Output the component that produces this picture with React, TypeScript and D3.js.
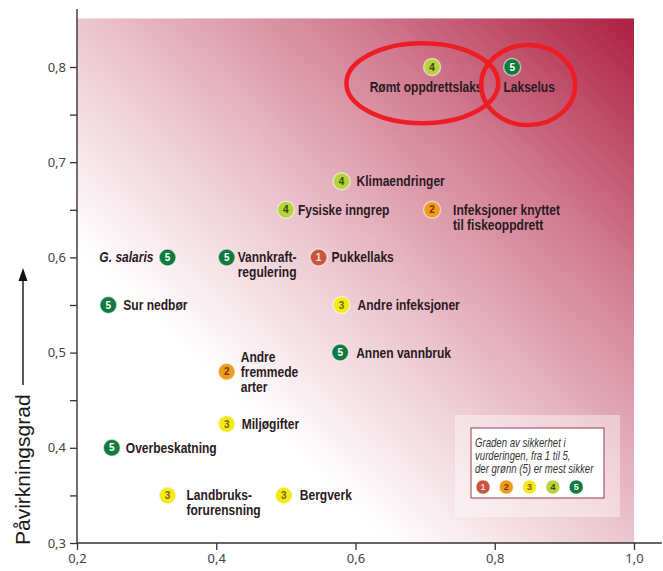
import React, { useEffect, useRef } from 'react';
import * as d3 from 'd3';

// påvirkningsfaktorer: navn (linjer skilt med |), x, y og sikkerhetsgrad 1-5
const names = [
  'Rømt oppdrettslaks',
  'Lakselus',
  'Klimaendringer',
  'Fysiske inngrep',
  'Infeksjoner knyttet|til fiskeoppdrett',
  'G. salaris',
  'Vannkraft-|regulering',
  'Pukkellaks',
  'Sur nedbør',
  'Andre infeksjoner',
  'Annen vannbruk',
  'Andre|fremmede|arter',
  'Miljøgifter',
  'Overbeskatning',
  'Landbruks-|forurensning',
  'Bergverk',
];
const xValues = [0.71, 0.825, 0.58, 0.5, 0.71, 0.33, 0.415, 0.547, 0.245, 0.58, 0.578, 0.415, 0.415, 0.25, 0.33, 0.497];
const yValues = [0.8, 0.8, 0.68, 0.65, 0.65, 0.6, 0.6, 0.6, 0.55, 0.55, 0.5, 0.48, 0.425, 0.4, 0.35, 0.35];
const certainty = [4, 5, 4, 4, 2, 5, 5, 1, 5, 3, 5, 2, 3, 5, 3, 3];

// plassering av etiketter (layout, ikke data)
const labelSide = ['below', 'below', 'right', 'right', 'right', 'left', 'right', 'right', 'right', 'right', 'right', 'right', 'right', 'right', 'right', 'right'];
const labelGap = [-6, 17, 15, 12, 21, 14, 11, 13, 15, 16, 16, 14, 15, 14, 19, 16];

// røde markeringsellipser i dataenheter: senter x, senter y, rx, ry
const ringX = [0.696, 0.848];
const ringY = [0.783, 0.781];
const ringRx = [0.109, 0.0675];
const ringRy = [0.042, 0.042];

const xTicks = [0.2, 0.4, 0.6, 0.8, 1.0];
const yTicks = [0.3, 0.35, 0.4, 0.45, 0.5, 0.55, 0.6, 0.65, 0.7, 0.75, 0.8];
const legendLines = ['Graden av sikkerhet i', 'vurderingen, fra 1 til 5,', 'der grønn (5) er mest sikker'];
const levels = [1, 2, 3, 4, 5];

const levelFill: Record<number, string> = { 1: '#c8553f', 2: '#ee9b1f', 3: '#f3ea1c', 4: '#b6d23c', 5: '#0f7a3e' };
const levelText: Record<number, string> = { 1: '#f8ddd2', 2: '#6e3a05', 3: '#7a6208', 4: '#37460f', 5: '#ffffff' };

const W = 663;
const H = 571;
const sans = '"Liberation Sans", Arial, sans-serif';
const squeeze = 0.83;

const App: React.FC = () => {
  const ref = useRef<SVGSVGElement | null>(null);

  useEffect(() => {
    const svg = d3.select(ref.current);
    svg.selectAll('*').remove();

    const x = d3.scaleLinear().domain([0.2, 1.0]).range([77, 634]);
    const y = d3.scaleLinear().domain([0.3, 0.8]).range([543, 67]);

    const defs = svg.append('defs');
    const grad = defs.append('linearGradient')
      .attr('id', 'bg')
      .attr('x1', 0).attr('y1', 1).attr('x2', 1).attr('y2', 0);
    [
      [0, '#ffffff'],
      [0.28, '#ffffff'],
      [0.5, '#ecc6cf'],
      [0.75, '#d17a90'],
      [1, '#ad1f41'],
    ].forEach(([o, c]) => grad.append('stop').attr('offset', o as number).attr('stop-color', c as string));

    svg.append('rect').attr('width', W).attr('height', H).attr('fill', 'white');

    svg.append('rect')
      .attr('x', x(0.2))
      .attr('y', y(0.851))
      .attr('width', x(1.0) - x(0.2))
      .attr('height', y(0.3) - y(0.851))
      .attr('fill', 'url(#bg)');

    // akser
    const yAxis = svg.append('g')
      .attr('transform', `translate(${x(0.2)},0)`)
      .call(d3.axisLeft(y).tickValues(yTicks).tickSize(7)
        .tickFormat(d => (Math.round((d as number) * 100) % 10 === 0 ? d3.format('.1f')(d as number).replace('.', ',') : '')));
    yAxis.select('.domain').remove();
    yAxis.selectAll('line').attr('stroke', '#333').attr('stroke-width', 1.3);
    yAxis.selectAll('text')
      .attr('x', -11)
      .style('font-family', '"Noto Sans", sans-serif')
      .style('font-size', '13px')
      .attr('fill', '#444');

    const xAxis = svg.append('g')
      .attr('transform', `translate(0,${y(0.3)})`)
      .call(d3.axisBottom(x).tickValues(xTicks).tickSize(7)
        .tickFormat(d => d3.format('.1f')(d as number).replace('.', ',')));
    xAxis.select('.domain').remove();
    xAxis.selectAll('line').attr('stroke', '#333').attr('stroke-width', 1.3);
    xAxis.selectAll('text')
      .attr('y', 11)
      .style('font-family', '"Noto Sans", sans-serif')
      .style('font-size', '13px')
      .attr('fill', '#444');

    svg.append('line')
      .attr('x1', x(0.2)).attr('x2', x(0.2))
      .attr('y1', y(0.861)).attr('y2', y(0.3))
      .attr('stroke', '#333').attr('stroke-width', 1.4);
    svg.append('line')
      .attr('x1', x(0.2)).attr('x2', x(1.04))
      .attr('y1', y(0.3)).attr('y2', y(0.3))
      .attr('stroke', '#333').attr('stroke-width', 1.4);

    // aksetittel med pil
    const ax = 23;
    svg.append('text')
      .attr('transform', `translate(${ax + 7},${y(0.3) + 2}) rotate(-90)`)
      .attr('text-anchor', 'start')
      .style('font-family', sans)
      .style('font-size', '21px')
      .attr('fill', '#1a1a1a')
      .text('Påvirkningsgrad');
    svg.append('line')
      .attr('x1', ax).attr('x2', ax)
      .attr('y1', 385).attr('y2', 278)
      .attr('stroke', '#222').attr('stroke-width', 1.5);
    svg.append('path')
      .attr('d', `M${ax},268 L${ax - 4.5},281 L${ax + 4.5},281 Z`)
      .attr('fill', '#111');

    // punkter
    const pts = names.map((n, i) => ({
      lines: n.split('|'),
      x: xValues[i],
      y: yValues[i],
      c: certainty[i],
      side: labelSide[i],
      gap: labelGap[i],
    }));

    const g = svg.append('g');
    const node = g.selectAll('g.pt').data(pts).enter().append('g')
      .attr('class', 'pt')
      .attr('transform', d => `translate(${x(d.x)},${y(d.y)})`);

    node.append('circle')
      .attr('r', 8.5)
      .attr('fill', d => levelFill[d.c])
      .attr('stroke', 'rgba(255,255,255,0.55)')
      .attr('stroke-width', 1.5);
    node.append('text')
      .attr('text-anchor', 'middle')
      .attr('dy', '0.36em')
      .style('font-family', sans)
      .style('font-size', '10px')
      .style('font-weight', 'bold')
      .attr('fill', d => levelText[d.c])
      .text(d => String(d.c));

    node.each(function (d) {
      const ox = d.side === 'left' ? -d.gap : d.gap;
      const wrap = d3.select(this).append('g')
        .attr('transform', `translate(${ox},0) scale(${squeeze},1)`);
      const t = wrap.append('text')
        .attr('text-anchor', d.side === 'below' ? 'middle' : d.side === 'left' ? 'end' : 'start')
        .style('font-family', sans)
        .style('font-size', '14.5px')
        .style('font-weight', 'bold')
        .style('font-style', d.lines[0].startsWith('G.') ? 'italic' : 'normal')
        .attr('fill', '#2b1a1f');
      const start = -Math.floor((d.lines.length - 1) / 2);
      d.lines.forEach((ln, k) => {
        t.append('tspan')
          .attr('x', 0)
          .attr('y', d.side === 'below' ? 25 : (start + k) * 15 + 5)
          .text(ln);
      });
    });

    // forklaring
    const lg = svg.append('g');
    lg.append('rect')
      .attr('x', 455).attr('y', 415).attr('width', 165).attr('height', 102)
      .attr('fill', 'rgba(255,255,255,0.4)');
    lg.append('rect')
      .attr('x', 471).attr('y', 428).attr('width', 133).attr('height', 70)
      .attr('fill', 'white')
      .attr('stroke', '#9b3a55').attr('stroke-width', 1);
    legendLines.forEach((ln, i) => {
      lg.append('g')
        .attr('transform', `translate(475,${447 + i * 13}) scale(0.8,1)`)
        .append('text')
        .style('font-family', sans)
        .style('font-size', '12px')
        .style('font-style', 'italic')
        .attr('fill', '#333')
        .text(ln);
    });
    const lc = lg.selectAll('g.lv').data(levels).enter().append('g')
      .attr('class', 'lv')
      .attr('transform', (d, i) => `translate(${483 + i * 23.3},487)`);
    lc.append('circle').attr('r', 7).attr('fill', d => levelFill[d])
      .attr('stroke', 'rgba(255,255,255,0.5)').attr('stroke-width', 1);
    lc.append('text')
      .attr('text-anchor', 'middle').attr('dy', '0.36em')
      .style('font-family', sans).style('font-size', '9px').style('font-weight', 'bold')
      .attr('fill', d => levelText[d])
      .text(d => String(d));

    // røde markeringer
    svg.append('g').selectAll('ellipse').data(ringX).enter().append('ellipse')
      .attr('cx', d => x(d))
      .attr('cy', (d, i) => y(ringY[i]))
      .attr('rx', (d, i) => x(0.2 + ringRx[i]) - x(0.2))
      .attr('ry', (d, i) => y(0.3) - y(0.3 + ringRy[i]))
      .attr('fill', 'none')
      .attr('stroke', '#ee1c24')
      .attr('stroke-width', 4.5);
  }, []);

  return (
    <svg ref={ref} width={W} height={H} style={{ position: 'absolute', left: 0, top: 0 }} />
  );
};

export default App;
